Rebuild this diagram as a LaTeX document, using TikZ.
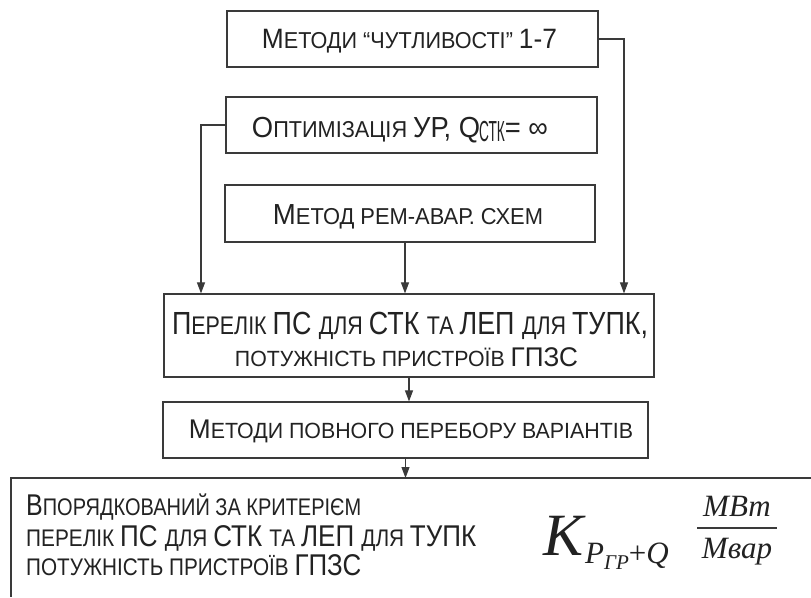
\documentclass[tikz,border=0pt]{standalone}
\usepackage{fontspec}
\usepackage{graphicx}
\setmainfont{Liberation Sans}
\newfontfamily\timesf{Liberation Serif}
\usetikzlibrary{arrows.meta,calc}
\newcommand\fs[1]{\fontsize{#1}{#1}\selectfont}
\newcommand\fitw[2]{\resizebox{#1}{\height}{#2}}
\definecolor{ln}{HTML}{3A3A3A}
\definecolor{tx}{HTML}{222222}
\begin{document}
\begin{tikzpicture}[x=1pt,y=-1pt,
  box/.style={draw=ln, line width=1.2pt, inner sep=0pt},
  lbl/.style={text=tx, inner sep=0pt, anchor=base},
  lbw/.style={text=tx, inner sep=0pt, anchor=base west},
  arr/.style={draw=ln, line width=1.1pt, -{Triangle[length=11pt,width=8pt]}}]
\useasboundingbox[fill=white] (0,0) rectangle (811,597);
% boxes
\node[box, minimum width=371, minimum height=56] (b1) at (412.5,39) {};
\node[box, minimum width=371, minimum height=56] (b2) at (411.5,125) {};
\node[box, minimum width=370, minimum height=57] (b3) at (410,213.5) {};
\node[box, minimum width=490, minimum height=83] (b4) at (409,335.5) {};
\node[box, minimum width=485, minimum height=56] (b5) at (405.5,430) {};
\coordinate (bt) at (11,478);
\coordinate (br) at (811,478);
\coordinate (bb) at (11,597);
\draw[draw=ln, line width=1.2pt] (br) -- (bt) -- (bb);
% texts
\node[lbl] (t1) at (409.5,48) {\fitw{295pt}{\fs{28}М\fs{23}ЕТОДИ “ЧУТЛИВОСТІ” \fs{28}1-7}};
\node[lbl] (t2) at (400,137) {\fitw{296pt}{\fs{29}О\fs{23}ПТИМІЗАЦІЯ \fs{29}УР, Q\hspace{-1pt}\raisebox{-4pt}{\scalebox{0.5}[1]{СТК}}= ∞}};
\node[lbl] (t3) at (408,224) {\fitw{270pt}{\fs{29}М\fs{23}ЕТОД РЕМ-АВАР. СХЕМ}};
\node[lbl] (t4a) at (410,334) {\fitw{476pt}{\fs{32}П\fs{25.5}ЕРЕЛІК \fs{32}ПС \fs{25.5}ДЛЯ \fs{32}СТК \fs{25.5}ТА \fs{32}ЛЕП \fs{25.5}ДЛЯ \fs{32}ТУПК,}};
\node[lbl] (t4b) at (406.5,366) {\fitw{343pt}{\fs{22}ПОТУЖНІСТЬ ПРИСТРОЇВ \fs{27}ГПЗС}};
\node[lbl] (t5) at (411,438) {\fitw{444pt}{\fs{27}М\fs{22}ЕТОДИ ПОВНОГО ПЕРЕБОРУ ВАРІАНТІВ}};
\node[lbw] (t6a) at (26,515) {\fitw{335pt}{\fs{30}В\fs{24}ПОРЯДКОВАНИЙ ЗА КРИТЕРІЄМ}};
\node[lbw] (t6b) at (26,546) {\fitw{450pt}{\fs{24}ПЕРЕЛІК \fs{30}ПС \fs{24}ДЛЯ \fs{30}СТК \fs{24}ТА \fs{30}ЛЕП \fs{24}ДЛЯ \fs{30}ТУПК}};
\node[lbw] (t6c) at (26,575) {\fitw{335pt}{\fs{24}ПОТУЖНІСТЬ ПРИСТРОЇВ \fs{30}ГПЗС}};
% formula
\node[lbw] (k) at (543,555) {\timesf\itshape\fs{60}K};
\node[lbw] (ks) at (585,563) {\timesf\fs{31}\textit{P}\raisebox{-6pt}{\fs{21}\textit{ГР}}+\textit{Q}};
\node[lbl] (num) at (737,516) {\timesf\itshape\fs{31}MВт};
\node[lbl] (den) at (737,558) {\timesf\itshape\fs{31}Mвар};
\draw[draw=ln, line width=1.2pt] ([xshift=-40pt,yshift=-12pt]num.base) -- ([xshift=40pt,yshift=-12pt]num.base);
% connectors
\draw[arr] (b1.east) -| ([xshift=215pt]b4.north);
\draw[arr] (b2.west) -| ([xshift=-208pt]b4.north);
\draw[arr] ([xshift=-5pt]b3.south) -- ([xshift=-4pt]b4.north);
\draw[arr] (b4.south) -- (b4.south |- b5.north);
\draw[arr] (b5.south) -- (b5.south |- bt);
\end{tikzpicture}
\end{document}
